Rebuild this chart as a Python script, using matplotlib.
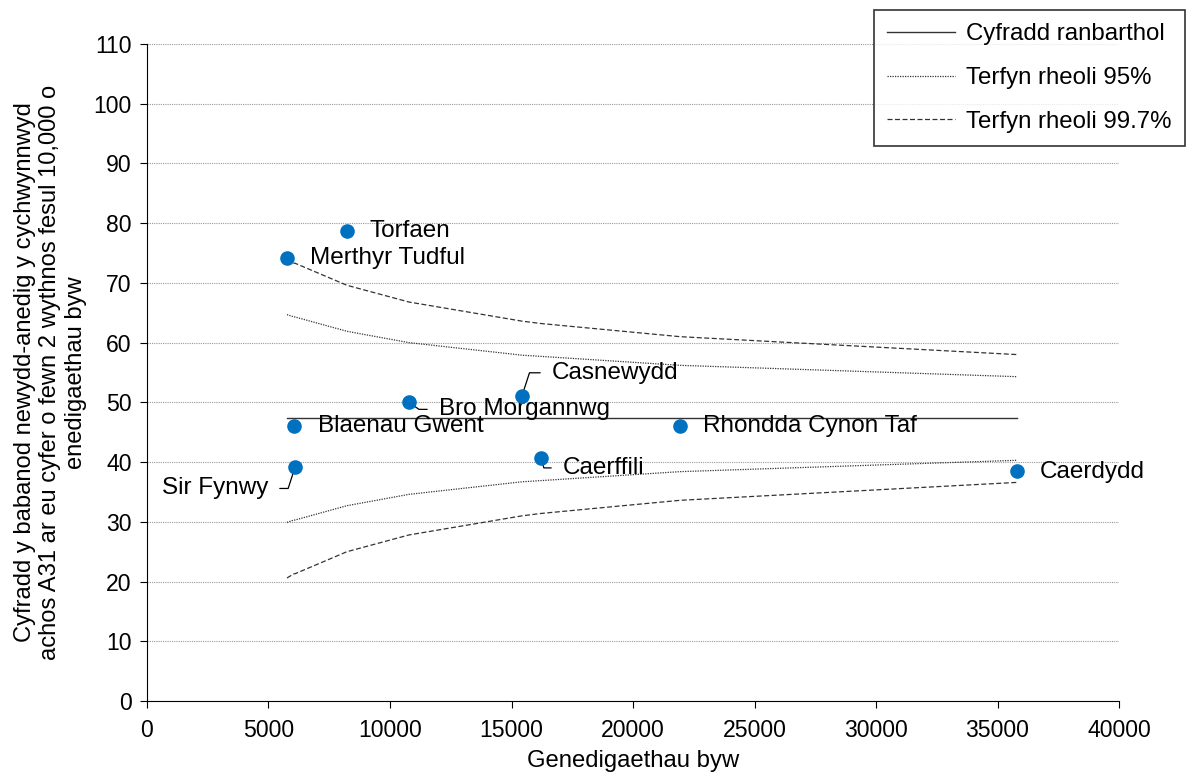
import numpy as np
import matplotlib.pyplot as plt

plt.rcParams['font.family'] = ['Liberation Sans', 'DejaVu Sans']

# awdurdodau lleol: genedigaethau byw a chyfradd
names = ['Merthyr Tudful', 'Blaenau Gwent', 'Sir Fynwy', 'Torfaen', 'Bro Morgannwg',
         'Casnewydd', 'Caerffili', 'Rhondda Cynon Taf', 'Caerdydd']
births = [5761, 6049, 6090, 8230, 10782, 15432, 16214, 21934, 35802]
rates = [74.1, 46.0, 39.1, 78.7, 50.0, 51.1, 40.7, 46.0, 38.5]

regional_rate = 47.3
upper95 = [64.7, 64.3, 64.3, 61.9, 60.0, 57.9, 57.7, 56.2, 54.3]
lower95 = [29.9, 30.3, 30.3, 32.7, 34.6, 36.7, 36.9, 38.4, 40.3]
upper997 = [74.0, 73.3, 73.3, 69.6, 66.8, 63.6, 63.2, 61.0, 58.0]
lower997 = [20.6, 21.3, 21.3, 25.0, 27.8, 31.0, 31.4, 33.6, 36.6]

# label offsets in pixels: dx, dy, ha, leader angle at the point (None = no leader)
label_pos = {
    'Torfaen': (23, 0, 'left', None),
    'Merthyr Tudful': (23, 0, 'left', None),
    'Blaenau Gwent': (24, 0, 'left', None),
    'Sir Fynwy': (-27, -21, 'right', 72),
    'Bro Morgannwg': (30, -7, 'left', -35),
    'Casnewydd': (30, 23, 'left', 72),
    'Caerffili': (22, -10, 'left', -74),
    'Rhondda Cynon Taf': (23, 0, 'left', None),
    'Caerdydd': (23, -1, 'left', None),
}

fig = plt.figure(figsize=(11.92, 7.75), dpi=100)
ax = fig.add_axes([0.1233, 0.0955, 0.8155, 0.8477])

ax.plot([births[0], births[-1]], [regional_rate, regional_rate], color='#333333', lw=1.0,
        label='Cyfradd ranbarthol')
ax.plot(births, upper95, color='#333333', lw=0.9, linestyle=(0, (1, 1)),
        label='Terfyn rheoli 95%')
ax.plot(births, lower95, color='#333333', lw=0.9, linestyle=(0, (1, 1)))
ax.plot(births, upper997, color='#333333', lw=0.9, linestyle=(0, (4, 2)),
        label='Terfyn rheoli 99.7%')
ax.plot(births, lower997, color='#333333', lw=0.9, linestyle=(0, (4, 2)))

ax.scatter(births, rates, s=90, color='#0070C0', zorder=5)

for n, x, y in zip(names, births, rates):
    dx, dy, ha, ang = label_pos[n]
    if ang is not None:
        rp = (0, 0.5) if ha == 'left' else (1, 0.5)
        ax.annotate(n, (x, y), xytext=(dx, dy), textcoords='offset pixels',
                    ha=ha, va='center', fontsize=17.5,
                    arrowprops=dict(arrowstyle='-', color='black', lw=0.9,
                                    shrinkA=6.5, shrinkB=0, relpos=rp,
                                    connectionstyle='angle,angleA=0,angleB=%d,rad=0' % ang))
    else:
        ax.annotate(n, (x, y), xytext=(dx, dy), textcoords='offset pixels',
                    ha=ha, va='center', fontsize=17.5)

ax.set_xlim(0, 40000)
ax.set_ylim(0, 110)
ax.set_xticks(np.arange(0, 40001, 5000))
ax.set_yticks(np.arange(0, 111, 10))
ax.tick_params(labelsize=16.6, direction='out', length=5)
ax.tick_params(axis='y', pad=6)
ax.tick_params(axis='x', pad=8)
ax.yaxis.grid(True, color='#999999', linestyle=(0, (1, 1)), lw=0.8)
ax.set_axisbelow(True)
for s in ['top', 'right']:
    ax.spines[s].set_visible(False)

ax.set_xlabel('Genedigaethau byw', fontsize=17.2, labelpad=6)
ax.set_ylabel('Cyfradd y babanod newydd-anedig y cychwynnwyd\n'
              'achos A31 ar eu cyfer o fewn 2 wythnos fesul 10,000 o\n'
              'enedigaethau byw', fontsize=17.1, linespacing=1.2, labelpad=5)

leg = fig.legend(loc='upper right', bbox_to_anchor=(0.994, 0.987), fontsize=17.3,
                 frameon=True, fancybox=False, edgecolor='black', handlelength=2.85,
                 handletextpad=0.45, labelspacing=0.9, borderpad=0.55, borderaxespad=0)
leg.get_frame().set_linewidth(1.2)

fig.savefig('out.png', dpi=100)
